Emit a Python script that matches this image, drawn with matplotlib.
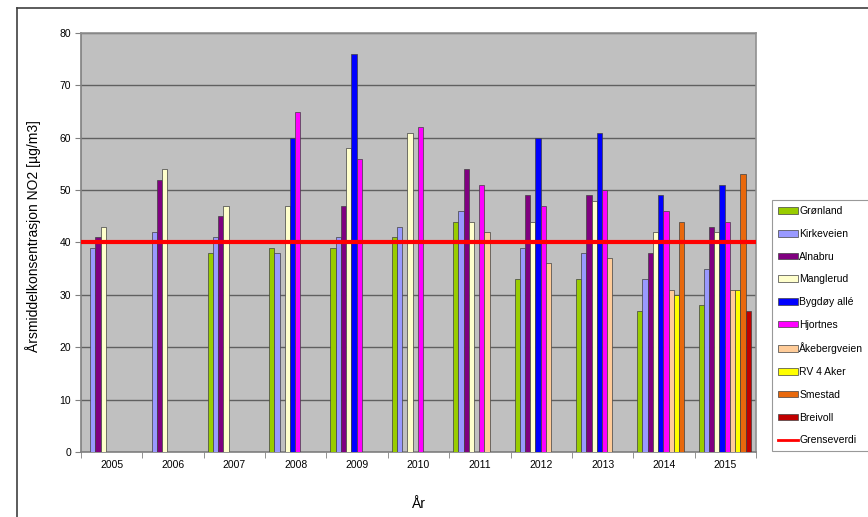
import numpy as np
import matplotlib
matplotlib.use('Agg')
import matplotlib.pyplot as plt
from matplotlib.lines import Line2D
from matplotlib.patches import Patch

plt.rcParams['font.family'] = ['Liberation Sans', 'DejaVu Sans']

years = ['2005', '2006', '2007', '2008', '2009', '2010', '2011', '2012', '2013', '2014', '2015']
nan = np.nan

# årsmiddel NO2 per målestasjon (nan = ingen måling)
gronland = [nan, nan, 38, 39, 39, 41, 44, 33, 33, 27, 28]
kirkeveien = [39, 42, 41, 38, 41, 43, 46, 39, 38, 33, 35]
alnabru = [41, 52, 45, nan, 47, nan, 54, 49, 49, 38, 43]
manglerud = [43, 54, 47, 47, 58, 61, 44, 44, 48, 42, 42]
bygdoy = [nan, nan, nan, 60, 76, nan, nan, 60, 61, 49, 51]
hjortnes = [nan, nan, nan, 65, 56, 62, 51, 47, 50, 46, 44]
akebergveien = [nan, nan, nan, nan, nan, nan, 42, 36, 37, 31, 31]
rv4 = [nan, nan, nan, nan, nan, nan, nan, nan, nan, 30, 31]
smestad = [nan, nan, nan, nan, nan, nan, nan, nan, nan, 44, 53]
breivoll = [nan, nan, nan, nan, nan, nan, nan, nan, nan, nan, 27]
grenseverdi = 40

series = [
    ('Grønland', gronland, '#99CC00'),
    ('Kirkeveien', kirkeveien, '#9999FF'),
    ('Alnabru', alnabru, '#800080'),
    ('Manglerud', manglerud, '#FFFFCC'),
    ('Bygdøy allé', bygdoy, '#0000FF'),
    ('Hjortnes', hjortnes, '#FF00FF'),
    ('Åkebergveien', akebergveien, '#FFCC99'),
    ('RV 4 Aker', rv4, '#FFFF00'),
    ('Smestad', smestad, '#E8680C'),
    ('Breivoll', breivoll, '#C00000'),
]

fig = plt.figure(figsize=(8.68, 5.17), dpi=100)
ax = fig.add_axes([81 / 868, 65 / 517, 675 / 868, 419 / 517])
ax.set_facecolor('#C0C0C0')

x = np.arange(len(years))
bw = 0.085
handles = []
for i, (name, vals, col) in enumerate(series):
    offs = (i - 4.5) * bw - 0.01
    ax.bar(x + offs, vals, width=bw, color=col, edgecolor='#404040', linewidth=0.5, zorder=3)
    handles.append(Patch(facecolor=col, edgecolor='#404040', linewidth=0.5, label=name))

ax.axhline(grenseverdi, color='#FF0000', linewidth=3, zorder=4)
handles.append(Line2D([0], [0], color='#FF0000', linewidth=2, label='Grenseverdi'))

ax.set_xlim(-0.5, len(years) - 0.5)
ax.set_ylim(0, 80)
ax.set_yticks(range(0, 81, 10))
ax.set_xticks(x)
ax.set_xticklabels(years)
ax.set_xticks(np.arange(-0.5, len(years), 1), minor=True)
ax.tick_params(axis='x', which='major', length=0, labelsize=7.5, pad=6)
ax.tick_params(axis='x', which='minor', length=4, color='#808080')
ax.tick_params(axis='y', length=4, color='#808080', labelsize=7.5, pad=3)
ax.yaxis.grid(True, color='#606060', linewidth=1, zorder=1)
ax.set_axisbelow(True)
for s in ax.spines.values():
    s.set_color('#909090')
    s.set_linewidth(1.2)
ax.spines['left'].set_color('#808080')
ax.spines['bottom'].set_color('#808080')

ax.set_ylabel('Årsmiddelkonsentrasjon NO2 [µg/m3]', fontsize=10)
ax.yaxis.set_label_coords(-0.059, 0.515)
ax.set_xlabel('År', fontsize=10, labelpad=19)

leg = fig.legend(handles=handles, loc='upper left', bbox_to_anchor=(772 / 868, 1 - 200 / 517),
                 fontsize=7.5, frameon=True, fancybox=False, handlelength=1.9, handleheight=0.6,
                 handletextpad=0.1, labelspacing=1.22, borderpad=0.6, borderaxespad=0)
leg.get_frame().set_edgecolor('#808080')
leg.get_frame().set_linewidth(0.8)

# ramme rundt diagrammet
fig.add_artist(Line2D([17 / 868, 17 / 868], [0, 1 - 8 / 517], color='#404040', linewidth=1.2))
fig.add_artist(Line2D([17 / 868, 1], [1 - 8 / 517, 1 - 8 / 517], color='#404040', linewidth=1.2))

fig.savefig('out.png', dpi=100)
